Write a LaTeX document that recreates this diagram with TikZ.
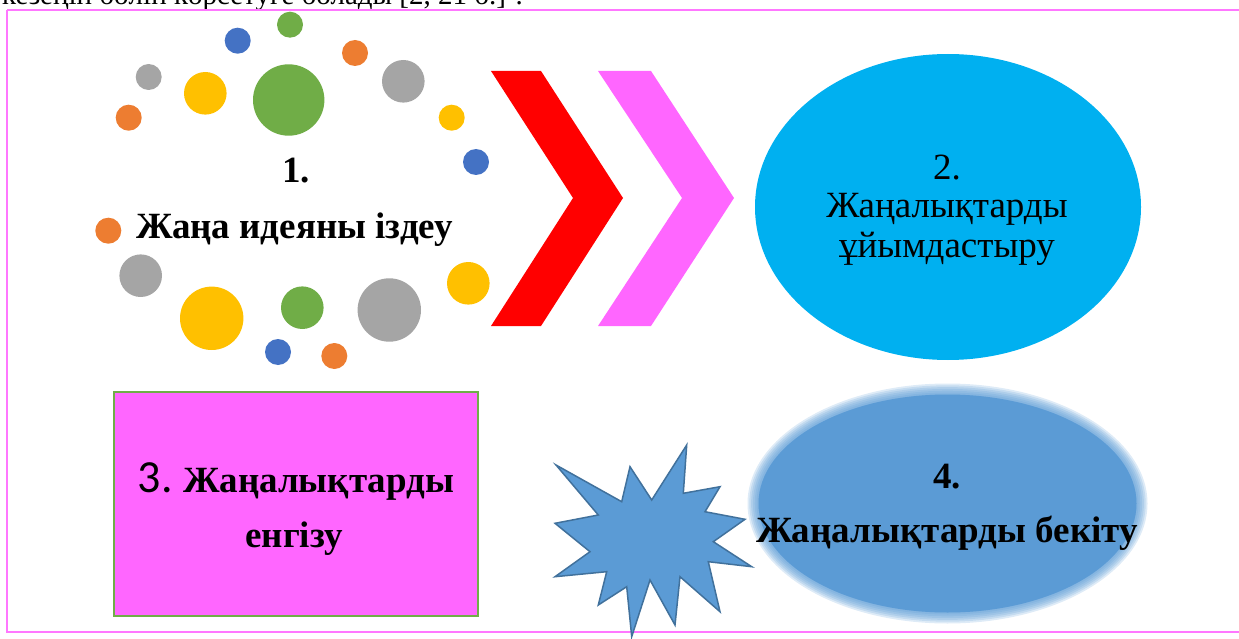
\documentclass[tikz,border=0pt]{standalone}
\usepackage{fontspec}
\setmainfont{Liberation Serif}
\newfontfamily\calib{Carlito}
\definecolor{cgreen}{HTML}{70AD47}
\definecolor{cblue}{HTML}{4472C4}
\definecolor{corange}{HTML}{ED7D31}
\definecolor{cgray}{HTML}{A5A5A5}
\definecolor{cyellow}{HTML}{FFC000}
\definecolor{cpink}{HTML}{FF66FF}
\definecolor{framepink}{HTML}{FF77FF}
\definecolor{ccyan}{HTML}{00B0F0}
\definecolor{sblue}{HTML}{5B9BD5}
\definecolor{sblueline}{HTML}{41719C}
\begin{document}
\begin{tikzpicture}[x=1pt,y=-1pt,
  boldtxt/.style={anchor=base,inner sep=0pt,font=\fontsize{37}{42}\selectfont\bfseries},
  regtxt/.style={anchor=base,inner sep=0pt,font=\fontsize{37}{42}\selectfont}]
\useasboundingbox (0,0) rectangle (1239,639);
\clip (0,0) rectangle (1239,639);
% partial line of text above the frame
\node[anchor=base west,inner sep=0pt,font=\fontsize{29}{32}\selectfont] (prev) at (2,5) {кезеңін бөліп көрсетуге болады [2, 21 б.] .};
% frame
\draw[framepink,line width=2pt] (7,10.5) -- (1250,10.5);
\draw[framepink,line width=2pt] (7,10.5) -- (7,632) -- (1250,632);
% circles
\foreach \x/\y/\r/\c in {
 237.7/40.7/13/cblue, 290/24.7/13/cgreen, 355/53/13/corange, 148.7/77/13/cgray,
 205.3/93.3/21.3/cyellow, 288.7/100/35.7/cgreen, 403.3/81.3/21.3/cgray,
 128.7/117.7/13/corange, 451.7/117.7/13/cyellow, 476/162/13/cblue,
 108.3/230.7/13/corange, 140.7/275.7/21.3/cgray, 468.3/283.3/21.3/cyellow,
 211.7/318.3/31.7/cyellow, 302.3/307.7/21.3/cgreen, 389.3/310/31.7/cgray,
 278/352/13/cblue, 334.3/356/13/corange}
 \fill[\c] (\x,\y) circle (\r);
\node[boldtxt] (n1a) at (296,183) {1.};
\node[boldtxt] (n1b) at (294.5,238) {Жаңа идеяны іздеу};
% chevrons
\fill[red] (491,71) -- (541,71) -- (623,198) -- (541,326) -- (491,326) -- (573,198) -- cycle;
\fill[cpink] (598,71) -- (651,71) -- (734,198) -- (651,326) -- (598,326) -- (682,198) -- cycle;
% ellipse 2
\fill[ccyan] (948,207) ellipse (193 and 153);
\node[regtxt] (n2a) at (947,180) {2.};
\node[regtxt] (n2b) at (947,218) {Жаңалықтарды};
\node[regtxt] (n2c) at (947,257) {ұйымдастыру};
% box 3
\draw[cgreen,fill=cpink,line width=2pt] (114,392) rectangle (478,616);
\node[anchor=base,inner sep=0pt] (n3a) at (296,492) {{\calib\fontsize{46}{50}\selectfont 3.}\hspace{11pt}{\fontsize{37}{42}\selectfont\bfseries Жаңалықтарды}};
\node[boldtxt] (n3b) at (294,547) {енгізу};
% ellipse 4 with soft edge
\foreach \i in {0,...,6}
  \fill[sblue,fill opacity=0.2] (947.5,503.5) ellipse ({200-1.8*\i} and {120-1.8*\i});
\fill[sblue] (947.5,503.5) ellipse (189 and 109);
\node[boldtxt] (n4a) at (947,488) {4.};
\node[boldtxt] (n4b) at (947,542) {Жаңалықтарды бекіту};
% star
\draw[sblueline,fill=sblue,line width=1.5pt,line join=miter]
 (556,465) -- (621.7,501.7) -- (630,466.7) -- (651.7,500) -- (686.7,445) -- (683.3,493.3)
 -- (720,486.7) -- (705,511.7) -- (745,519.3) -- (713.3,541.7) -- (751.7,566.7)
 -- (708.3,561.7) -- (720,611.7) -- (680,576.7) -- (675,625) -- (650,580)
 -- (631.7,636.7) -- (626.7,586.7) -- (598.3,605) -- (606.7,571.7) -- (555,576.7)
 -- (590,551.7) -- (555,523.3) -- (598.3,515) -- cycle;
\end{tikzpicture}
\end{document}
